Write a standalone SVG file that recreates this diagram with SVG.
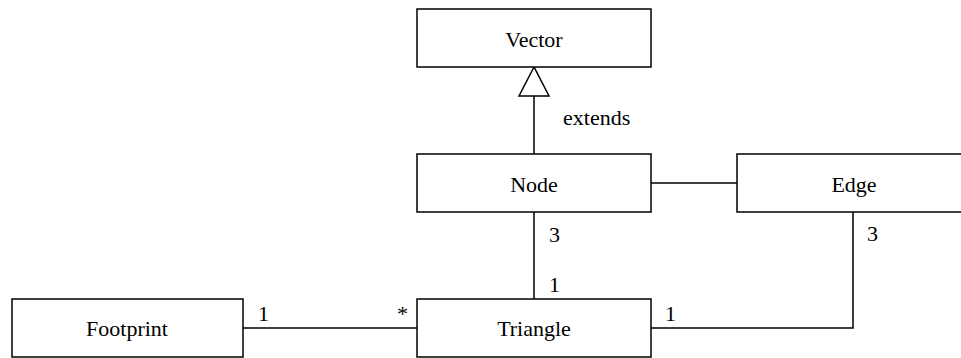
<svg xmlns="http://www.w3.org/2000/svg" width="961" height="358" viewBox="0 0 961 358">
<style>
.box{fill:#fff;stroke:#000;stroke-width:1.5}
.t{font-family:"Liberation Serif","Times New Roman",serif;font-size:22px;fill:#000}
.c{text-anchor:middle}
.ln{fill:none;stroke:#000;stroke-width:1.5}
</style>
<rect width="961" height="358" fill="#fff"/>
<g id="connectors">
<line class="ln" x1="534" y1="96" x2="534" y2="154"/>
<polygon points="534,67 519,96 549,96" fill="#fff" stroke="#000" stroke-width="1.5"/>
<text class="t" x="563" y="125">extends</text>
<line class="ln" x1="651" y1="183" x2="737" y2="183"/>
<line class="ln" x1="534" y1="212" x2="534" y2="299"/>
<text class="t" x="549" y="242">3</text>
<text class="t" x="549" y="292">1</text>
<polyline class="ln" points="651,328 853,328 853,212"/>
<text class="t" x="867" y="241">3</text>
<text class="t" x="665" y="321">1</text>
<line class="ln" x1="243" y1="328" x2="417" y2="328"/>
<text class="t" x="258" y="321">1</text>
<text class="t" x="397" y="321">*</text>
</g>
<g id="vector"><rect class="box" x="417" y="9" width="234" height="58"/><text class="t c" x="534" y="47">Vector</text></g>
<g id="node"><rect class="box" x="417" y="154" width="234" height="58"/><text class="t c" x="534" y="192">Node</text></g>
<g id="edge"><rect class="box" x="737" y="154" width="234" height="58"/><text class="t c" x="854" y="192">Edge</text></g>
<g id="footprint"><rect class="box" x="12" y="299" width="231" height="58"/><text class="t c" x="127" y="336">Footprint</text></g>
<g id="triangle"><rect class="box" x="417" y="299" width="234" height="58"/><text class="t c" x="534" y="336">Triangle</text></g>
</svg>
